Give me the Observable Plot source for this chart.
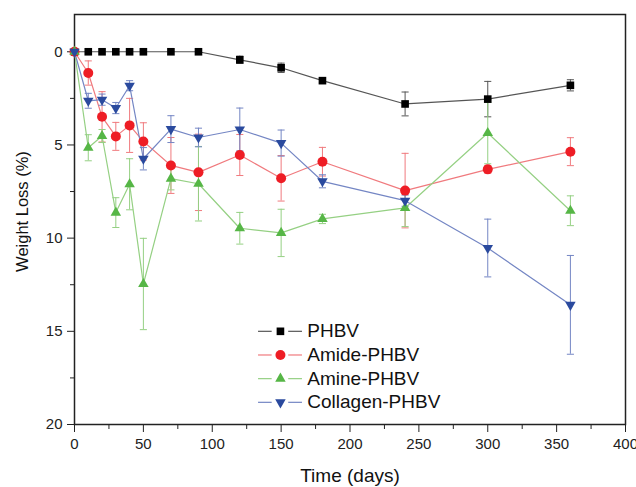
<!DOCTYPE html>
<html>
<head>
<meta charset="utf-8">
<script src="https://cdn.jsdelivr.net/npm/d3@7"></script>
<script src="https://cdn.jsdelivr.net/npm/@observablehq/plot@0.6"></script>
<style>
  html, body { margin: 0; padding: 0; background: white; }
</style>
</head>
<body>
<div id="chart"></div>
<script>
const days = [0, 10, 20, 30, 40, 50, 70, 90, 120, 150, 180, 240, 300, 360];
const phbv = [0, 0, 0, 0, 0, 0, 0, 0, 0.43, 0.86, 1.55, 2.8, 2.54, 1.8];
const phbvErr = [0, 0, 0, 0, 0, 0, 0, 0, 0.2, 0.25, 0.12, 0.64, 0.95, 0.3];
const amide = [0, 1.14, 3.49, 4.54, 3.95, 4.81, 6.1, 6.47, 5.54, 6.79, 5.9, 7.45, 6.31, 5.36];
const amideErr = [0, 0.65, 1.35, 0.75, 1.45, 1.0, 1.5, 2.05, 1.1, 1.22, 0.77, 2.0, 0.2, 0.75];
const amine = [0, 5.15, 4.52, 8.63, 7.11, 12.46, 6.81, 7.08, 9.47, 9.72, 8.97, 8.38, 4.36, 8.53];
const amineErr = [0, 0.7, 0.35, 0.8, 1.37, 2.45, 0.6, 2.0, 0.85, 1.27, 0.25, 1.0, 1.65, 0.8];
const collagen = [0, 2.63, 2.57, 3.02, 1.82, 5.74, 4.15, 4.6, 4.17, 4.9, 6.95, 7.99, 10.53, 13.58];
const collagenErr = [0, 0.4, 0.3, 0.3, 0.27, 0.6, 0.72, 0.5, 1.15, 0.7, 0.35, 0.3, 1.55, 2.65];

const seriesNames = ["PHBV", "Amide-PHBV", "Amine-PHBV", "Collagen-PHBV"];
const xTicks = [0, 50, 100, 150, 200, 250, 300, 350, 400];
const xMinorTicks = [25, 75, 125, 175, 225, 275, 325, 375];
const yTicks = [0, 5, 10, 15, 20];
const yMinorTicks = [2.5, 7.5, 12.5, 17.5];

const seriesValues = [phbv, amide, amine, collagen];
const seriesErrors = [phbvErr, amideErr, amineErr, collagenErr];
const markerColors = ["#000000", "#ee1d25", "#56b646", "#2a4a9e"];
const lineColors = ["#555555", "#f07a7e", "#95d083", "#7486c4"];
const symbols = ["square", "circle", "triangle", "triangle"];
const rotations = [0, 0, 0, 180];
const radii = [4.3, 5, 3.9, 3.9];

const capSymbol = {
  draw(context, size) {
    const w = Math.sqrt(size);
    context.moveTo(-w / 2, 0);
    context.lineTo(w / 2, 0);
  }
};

const series = seriesNames.map((name, i) => ({
  name,
  rows: days.map((t, j) => ({ t, v: seriesValues[i][j], e: seriesErrors[i][j] }))
}));

const marks = [
  Plot.axisX({ ticks: xTicks, tickSize: 8, tickPadding: 6, fontSize: 15, label: null, stroke: "#222", fill: "#222" }),
  Plot.axisX({ ticks: xMinorTicks, tickSize: 5, tickFormat: () => "", label: null, stroke: "#222" }),
  Plot.axisY({ ticks: yTicks, tickSize: 7, tickPadding: 5, fontSize: 15, label: null, stroke: "#222", fill: "#222" }),
  Plot.axisY({ ticks: yMinorTicks, tickSize: 4, tickFormat: () => "", label: null, stroke: "#222" }),
  Plot.frame({ stroke: "#222", strokeWidth: 1.5 })
];

series.forEach((s, i) => {
  const withErr = s.rows.filter(d => d.e > 0);
  marks.push(
    Plot.ruleX(withErr, { x: "t", y1: d => d.v - d.e, y2: d => d.v + d.e, stroke: lineColors[i], strokeWidth: 1 }),
    Plot.dot(withErr, { x: "t", y: d => d.v - d.e, symbol: capSymbol, r: 4, stroke: lineColors[i], strokeWidth: 1, fill: "none" }),
    Plot.dot(withErr, { x: "t", y: d => d.v + d.e, symbol: capSymbol, r: 4, stroke: lineColors[i], strokeWidth: 1, fill: "none" }),
    Plot.line(s.rows, { x: "t", y: "v", stroke: lineColors[i], strokeWidth: 1.2 })
  );
});
series.forEach((s, i) => {
  marks.push(
    Plot.dot(s.rows, { x: "t", y: "v", symbol: symbols[i], r: radii[i], rotate: rotations[i], fill: markerColors[i], stroke: "none" })
  );
});

// Legend (inside plot area)
const legendRows = seriesNames.map((name, i) => ({ name, i, y: 15.0 + 1.27 * i }));
legendRows.forEach(d => {
  marks.push(
    Plot.ruleY([d], { y: "y", x1: 133.6, x2: 143.5, stroke: lineColors[d.i], strokeWidth: 1.2 }),
    Plot.ruleY([d], { y: "y", x1: 155.5, x2: 165.5, stroke: lineColors[d.i], strokeWidth: 1.2 }),
    Plot.dot([d], { x: 149.5, y: "y", symbol: symbols[d.i], r: radii[d.i], rotate: rotations[d.i], fill: markerColors[d.i], stroke: "none" })
  );
});
marks.push(
  Plot.text(legendRows, { x: 169, y: "y", text: "name", textAnchor: "start", fontSize: 19, fill: "#111" })
);

// Axis titles
marks.push(
  Plot.text(["Weight Loss (%)"], { frameAnchor: "left", textAnchor: "middle", lineAnchor: "middle", dx: -52, dy: -8, rotate: -90, fontSize: 16.5, fill: "#111" }),
  Plot.text(["Time (days)"], { frameAnchor: "bottom", textAnchor: "middle", lineAnchor: "middle", dy: 51, fontSize: 19, fill: "#111" })
);

const chart = Plot.plot({
  width: 636,
  height: 487,
  marginLeft: 74,
  marginRight: 11,
  marginTop: 14,
  marginBottom: 63,
  style: { fontFamily: "'Liberation Sans', Arial, Helvetica, sans-serif", background: "white", overflow: "visible" },
  x: { domain: [0, 400] },
  y: { domain: [-2, 20], reverse: true },
  marks
});
document.getElementById("chart").appendChild(chart);
</script>
</body>
</html>
